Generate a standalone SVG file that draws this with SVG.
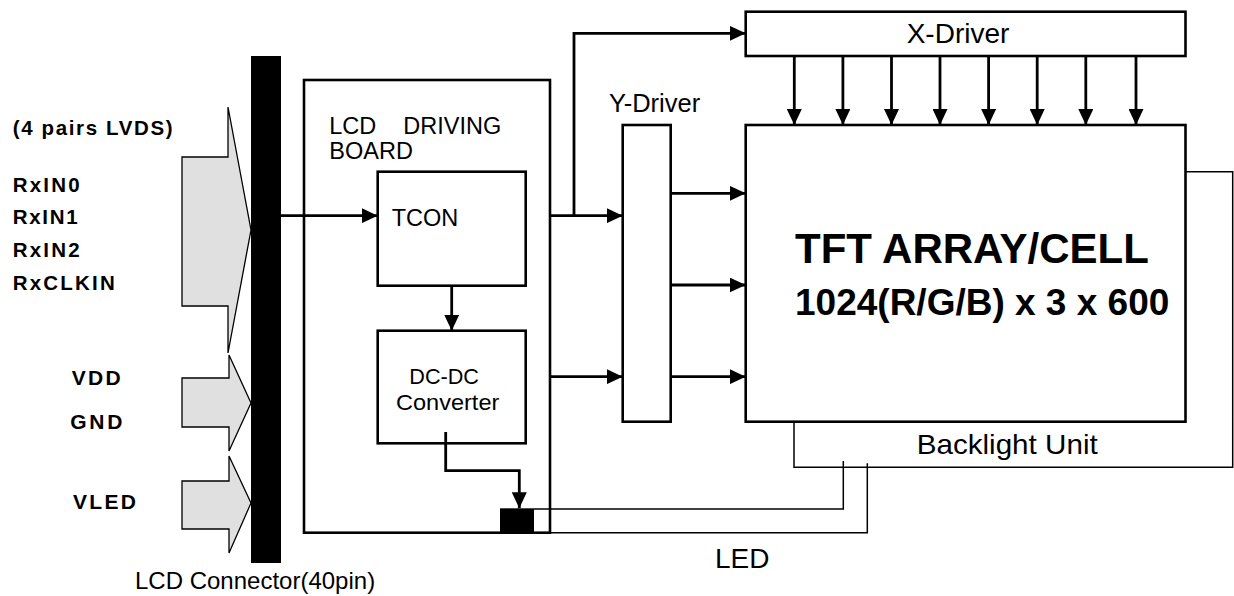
<svg xmlns="http://www.w3.org/2000/svg" width="1234" height="596" viewBox="0 0 1234 596">
<style>
.box{fill:#fff;stroke:#000;stroke-width:2.6}
.thin{fill:none;stroke:#000;stroke-width:1.5}
.wire{fill:none;stroke:#000;stroke-width:2.8}
.arr{fill:#e0e0e0;stroke:#000;stroke-width:1.3}
.lbl{font-family:"Liberation Sans",Arial,sans-serif;fill:#000}
.b{font-weight:bold}
</style>
<defs>
<marker id="ah" markerUnits="userSpaceOnUse" markerWidth="16" markerHeight="15" refX="16" refY="7.5" orient="auto">
<path d="M0,0 L16,7.5 L0,15 z" fill="#000"/>
</marker>
</defs>
<g id="inputs">
<polygon class="arr" points="182,157 228,157 228,107 251,230 228,353 228,306 182,306"/>
<polygon class="arr" points="182,378 229,378 229,355 251,403 229,451 229,427 182,427"/>
<polygon class="arr" points="182,481 229,481 229,456 251,503 229,553 229,529 182,529"/>
<text class="lbl b" x="12.7" y="135" font-size="20.5" textLength="160" lengthAdjust="spacing">(4 pairs LVDS)</text>
<text class="lbl b" x="12.7" y="191.7" font-size="20.5" textLength="67" lengthAdjust="spacing">RxIN0</text>
<text class="lbl b" x="12.7" y="224" font-size="20.5" textLength="65" lengthAdjust="spacing">RxIN1</text>
<text class="lbl b" x="12.7" y="256.7" font-size="20.5" textLength="67" lengthAdjust="spacing">RxIN2</text>
<text class="lbl b" x="12.7" y="290" font-size="20.5" textLength="102" lengthAdjust="spacing">RxCLKIN</text>
<text class="lbl b" x="71.7" y="385" font-size="21" textLength="49" lengthAdjust="spacing">VDD</text>
<text class="lbl b" x="70.3" y="429.3" font-size="21" textLength="52" lengthAdjust="spacing">GND</text>
<text class="lbl b" x="73" y="509.3" font-size="21" textLength="63" lengthAdjust="spacing">VLED</text>
</g>
<g id="connector">
<rect x="251" y="56" width="30" height="507" fill="#000"/>
<text class="lbl" x="135" y="589" font-size="24">LCD Connector(40pin)</text>
</g>
<g id="board">
<rect class="box" x="304" y="80" width="246" height="452.7"/>
<text class="lbl" x="329.3" y="134" font-size="23.5">LCD</text>
<text class="lbl" x="403.3" y="134" font-size="23.5">DRIVING</text>
<text class="lbl" x="329.3" y="159.3" font-size="23.5">BOARD</text>
</g>
<g id="tcon">
<rect class="box" x="377.7" y="171.7" width="148" height="114"/>
<text class="lbl" x="391.7" y="225.7" font-size="23.5">TCON</text>
</g>
<g id="dcdc">
<rect class="box" x="377.7" y="330.7" width="148" height="112.6"/>
<text class="lbl" x="409.3" y="384" font-size="22" textLength="69.7" lengthAdjust="spacingAndGlyphs">DC-DC</text>
<text class="lbl" x="396" y="409.5" font-size="22" textLength="103.3" lengthAdjust="spacingAndGlyphs">Converter</text>
</g>
<g id="ydriver">
<rect class="box" x="622.7" y="125" width="48" height="296.7"/>
<text class="lbl" x="609" y="111.7" font-size="25.5">Y-Driver</text>
</g>
<g id="xdriver">
<rect class="box" x="745.7" y="11.7" width="439.8" height="44.3"/>
<text class="lbl" x="958" y="43.3" font-size="28" text-anchor="middle">X-Driver</text>
</g>
<g id="backlight">
<path class="thin" d="M794,421.7 V467.3 H1232.7 V171.7 H1185.5"/>
<text class="lbl" x="916.7" y="454" font-size="28" textLength="181" lengthAdjust="spacingAndGlyphs">Backlight Unit</text>
</g>
<g id="tft">
<rect class="box" x="745.7" y="125" width="439.8" height="296.7"/>
<text class="lbl b" x="795" y="262.7" font-size="42">TFT ARRAY/CELL</text>
<text class="lbl b" x="795" y="315" font-size="37">1024(R/G/B) x 3 x 600</text>
</g>
<g id="ledconn">
<rect x="500" y="508.3" width="34" height="25" fill="#000"/>
<text class="lbl" x="715" y="568.3" font-size="28">LED</text>
</g>
<g id="connectors">
<line class="wire" x1="281" y1="215.7" x2="377.7" y2="215.7" marker-end="url(#ah)"/>
<line class="wire" x1="451.7" y1="285.7" x2="451.7" y2="330.7" marker-end="url(#ah)"/>
<line class="wire" x1="550" y1="215.7" x2="622.7" y2="215.7" marker-end="url(#ah)"/>
<polyline class="wire" points="574,215.7 574,33.3 745.7,33.3" marker-end="url(#ah)"/>
<line class="wire" x1="550" y1="376.7" x2="622.7" y2="376.7" marker-end="url(#ah)"/>
<line class="wire" x1="670.7" y1="193.3" x2="745.7" y2="193.3" marker-end="url(#ah)"/>
<line class="wire" x1="670.7" y1="285" x2="745.7" y2="285" marker-end="url(#ah)"/>
<line class="wire" x1="670.7" y1="376.7" x2="745.7" y2="376.7" marker-end="url(#ah)"/>
<line class="wire" x1="794.3" y1="56" x2="794.3" y2="125" marker-end="url(#ah)"/>
<line class="wire" x1="842.9" y1="56" x2="842.9" y2="125" marker-end="url(#ah)"/>
<line class="wire" x1="891.5" y1="56" x2="891.5" y2="125" marker-end="url(#ah)"/>
<line class="wire" x1="940" y1="56" x2="940" y2="125" marker-end="url(#ah)"/>
<line class="wire" x1="988.6" y1="56" x2="988.6" y2="125" marker-end="url(#ah)"/>
<line class="wire" x1="1037.2" y1="56" x2="1037.2" y2="125" marker-end="url(#ah)"/>
<line class="wire" x1="1085.8" y1="56" x2="1085.8" y2="125" marker-end="url(#ah)"/>
<line class="wire" x1="1136" y1="56" x2="1136" y2="125" marker-end="url(#ah)"/>
<polyline class="wire" points="445.7,432 445.7,470.7 519.3,470.7 519.3,508.3" marker-end="url(#ah)"/>
<polyline class="thin" points="534,509 843.3,509 843.3,461"/>
<polyline class="thin" points="534,532.7 867.3,532.7 867.3,463.3"/>
</g>
</svg>
